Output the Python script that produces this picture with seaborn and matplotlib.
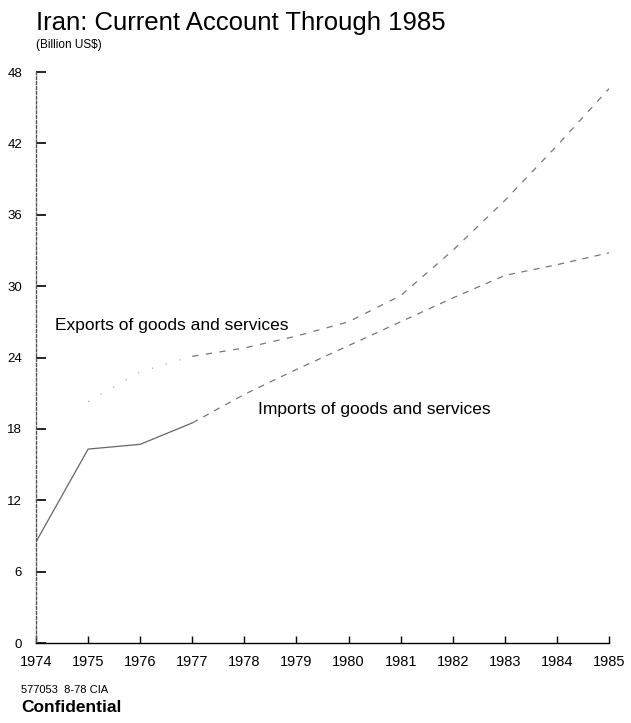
import matplotlib
matplotlib.use("Agg")
import matplotlib.pyplot as plt
import seaborn as sns
import pandas as pd

years = list(range(1974, 1986))
year_labels = [str(y) for y in years]
y_ticks = [0, 6, 12, 18, 24, 30, 36, 42, 48]

imports_hist_years = [1974, 1975, 1976, 1977]
imports_hist = [8.5, 16.3, 16.7, 18.5]
imports_proj_years = [1977, 1978, 1979, 1980, 1981, 1982, 1983, 1984, 1985]
imports_proj = [18.5, 20.9, 23.0, 25.0, 27.0, 29.0, 30.9, 31.8, 32.8]

exports_hist_years = [1975, 1976, 1977]
exports_hist = [20.3, 22.8, 24.1]
exports_proj_years = [1977, 1978, 1979, 1980, 1981, 1982, 1983, 1984, 1985]
exports_proj = [24.1, 24.8, 25.8, 27.0, 29.2, 33.0, 37.2, 41.8, 46.6]

title = "Iran: Current Account Through 1985"
subtitle = "(Billion US$)"
exports_label = "Exports of goods and services"
imports_label = "Imports of goods and services"
footer1 = "577053  8-78 CIA"
footer2 = "Confidential"

sns.set_style("white")
plt.rcParams['font.family'] = ['Liberation Sans', 'DejaVu Sans']
plt.rcParams['text.color'] = 'black'

fig = plt.figure(figsize=(6.31, 7.23), dpi=100)
ax = fig.add_axes([36/631, 80/723, (609-36)/631, (643-72)/723])

df_ih = pd.DataFrame({"year": imports_hist_years, "value": imports_hist})
df_ip = pd.DataFrame({"year": imports_proj_years, "value": imports_proj})
df_eh = pd.DataFrame({"year": exports_hist_years, "value": exports_hist})
df_ep = pd.DataFrame({"year": exports_proj_years, "value": exports_proj})

sns.lineplot(data=df_ih, x="year", y="value", ax=ax, color="#666666", lw=0.9)
sns.lineplot(data=df_ip, x="year", y="value", ax=ax, color="#777777", lw=0.9).lines[-1].set_dashes([5, 5])
sns.lineplot(data=df_eh, x="year", y="value", ax=ax, color="#999999", lw=0.8).lines[-1].set_dashes([1, 12])
sns.lineplot(data=df_ep, x="year", y="value", ax=ax, color="#777777", lw=0.9).lines[-1].set_dashes([5, 6])

ax.set_xlim(1974, 1985)
ax.set_ylim(0, 48)
ax.set_xticks(years)
ax.set_xticklabels(year_labels)
ax.set_yticks(y_ticks)
ax.set_xlabel("")
ax.set_ylabel("")
ax.tick_params(axis='x', bottom=True, direction='in', length=5, width=1, pad=9,
               labelsize=10.5, colors='black')
ax.tick_params(axis='y', left=True, direction='in', length=7, width=1.2, pad=10,
               labelsize=9.5, colors='black')

for s in ['top', 'right']:
    ax.spines[s].set_visible(False)
ax.spines['bottom'].set_color('black')
ax.spines['bottom'].set_linewidth(1.0)
ax.spines['left'].set_color('#555555')
ax.spines['left'].set_linewidth(1.0)
ax.spines['left'].set_linestyle((0, (2, 1.5)))

ax.text(1974.37, 26.7, exports_label, fontsize=12.5, va='center', ha='left', color='black')
ax.text(1978.26, 19.6, imports_label, fontsize=12.5, va='center', ha='left', color='black')

fig.text(36/631, 1 - 23/723, title, fontsize=18.5, va='center', ha='left', color='black')
fig.text(36/631, 1 - 45/723, subtitle, fontsize=8.5, va='center', ha='left', color='black')
fig.text(21/631, 1 - 690/723, footer1, fontsize=8, va='center', ha='left', color='black')
fig.text(21/631, 1 - 708/723, footer2, fontsize=12.5, fontweight='bold', va='center', ha='left', color='black')

fig.savefig("out.png", dpi=100)
